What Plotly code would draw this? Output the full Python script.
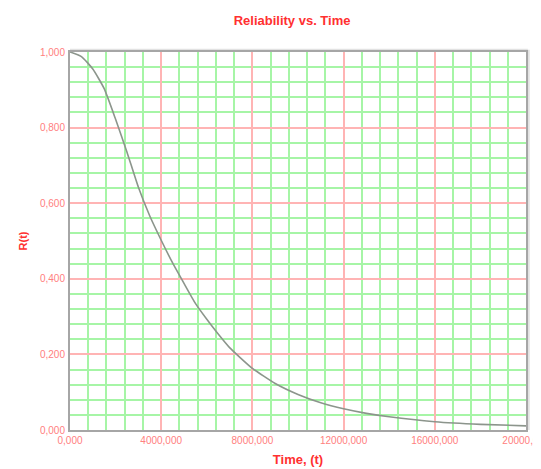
import plotly.graph_objects as go

# Data
time_t = [0, 500, 1000, 1500, 2000, 2500, 3000, 3500, 4000, 4500, 5000, 5500,
          6000, 6500, 7000, 8000, 9000, 10000, 11000, 12000, 13000, 14000,
          16000, 18000, 20000]
reliability = [1.0, 0.988, 0.955, 0.903, 0.822, 0.735, 0.642, 0.566, 0.502, 0.442,
               0.388, 0.335, 0.293, 0.254, 0.218, 0.163, 0.123, 0.094, 0.072,
               0.056, 0.044, 0.035, 0.022, 0.015, 0.011]

x_tick_vals = [0, 4000, 8000, 12000, 16000, 20000]
x_tick_text = ["0,000", "4000,000", "8000,000", "12000,000", "16000,000", "20000,000"]
y_tick_vals = [0, 0.2, 0.4, 0.6, 0.8, 1.0]
y_tick_text = ["0,000", "0,200", "0,400", "0,600", "0,800", "1,000"]

FONT = "Liberation Sans, Arial, sans-serif"
RED = "#ff3030"
TICK_RED = "#ff8080"
MAJOR = "#ffb4b4"
MINOR = "#a6f5a6"

fig = go.Figure()
fig.add_trace(go.Scatter(
    x=time_t, y=reliability, mode="lines",
    line=dict(color="#8c958c", width=1.6, shape="spline", smoothing=0.5),
    showlegend=False, hoverinfo="x+y"))

axis_common = dict(
    showline=True, linecolor="#a6a6a6", linewidth=2, mirror=True,
    showgrid=True, gridcolor=MAJOR, gridwidth=2, automargin=False,
    ticklabeloverflow="allow",
    zeroline=False, ticks="", tickfont=dict(family=FONT, size=10, color=TICK_RED),
)

fig.update_xaxes(
    range=[0, 20000], tickmode="array", tickvals=x_tick_vals, ticktext=x_tick_text,
    minor=dict(dtick=800, showgrid=True, gridcolor=MINOR, gridwidth=2, ticks=""),
    title=dict(text="<b>Time, (t)</b>", font=dict(family=FONT, size=13, color=RED), standoff=10),
    **axis_common)
fig.update_yaxes(
    range=[0, 1], tickmode="array", tickvals=y_tick_vals, ticktext=y_tick_text,
    minor=dict(dtick=0.04, showgrid=True, gridcolor=MINOR, gridwidth=2, ticks=""),
    title=dict(text="<b>R(t)</b>", font=dict(family=FONT, size=11, color=RED), standoff=10),
    ticklabelstandoff=1,
    **axis_common)

# light shadow of the frame (top and right)
fig.add_shape(type="line", xref="paper", yref="paper", x0=0, x1=1.004, y0=1.006, y1=1.006,
              line=dict(color="#e2e2e2", width=2), layer="below")
fig.add_shape(type="line", xref="paper", yref="paper", x0=1.006, x1=1.006, y0=0, y1=1.006,
              line=dict(color="#e2e2e2", width=2), layer="below")

fig.update_layout(
    width=533, height=461,
    margin=dict(l=62, r=15, t=44, b=39),
    paper_bgcolor="white", plot_bgcolor="white",
    title=dict(text="<b>Reliability vs. Time</b>", x=0.533, xanchor="center", y=0.974, yanchor="middle",
               font=dict(family=FONT, size=13, color=RED)),
)

fig.write_html("out.html")
